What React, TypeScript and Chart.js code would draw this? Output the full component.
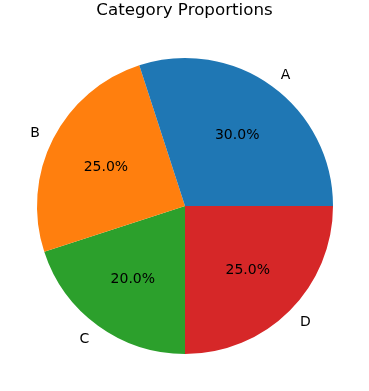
import React, { useEffect, useRef } from "react";
import { Chart, registerables } from "chart.js";

Chart.register(...registerables);

const categories = ["A", "B", "C", "D"];
const values = [30, 25, 20, 25];
const colors = ["#1f77b4", "#ff7f0e", "#2ca02c", "#d62728"];
const titleText = "Category Proportions";

// matplotlib draws counter-clockwise from east; Chart.js draws clockwise.
const order = [3, 2, 1, 0];

const labelPlugin = {
  id: "mplLabels",
  afterDatasetsDraw(chart: any) {
    const ctx = chart.ctx;
    const meta = chart.getDatasetMeta(0);
    const total = values.reduce((a, b) => a + b, 0);
    ctx.save();
    meta.data.forEach((arc: any, i: number) => {
      const idx = order[i];
      const mid = (arc.startAngle + arc.endAngle) / 2;
      const r = arc.outerRadius;
      const cx = arc.x;
      const cy = arc.y;
      const c = Math.cos(mid);
      const s = Math.sin(mid);
      ctx.fillStyle = "#000";
      ctx.font = "14px 'DejaVu Sans'";
      ctx.textBaseline = "middle";
      ctx.textAlign = c > 0 ? "left" : "right";
      ctx.fillText(categories[idx], cx + 1.1 * r * c, cy + 1.1 * r * s + 1.5);
      ctx.textAlign = "center";
      const pct = ((values[idx] / total) * 100).toFixed(1) + "%";
      ctx.fillText(pct, cx + 0.6 * r * c, cy + 0.6 * r * s + 1.5);
    });
    ctx.font = "16.7px 'DejaVu Sans'";
    ctx.textAlign = "center";
    ctx.textBaseline = "alphabetic";
    ctx.fillText(titleText, 184.5, 15);
    ctx.restore();
  },
};

export default function App() {
  const ref = useRef<HTMLCanvasElement>(null);
  useEffect(() => {
    document.body.style.margin = "0";
    const chart = new Chart(ref.current!, {
      type: "pie",
      data: {
        labels: order.map((i) => categories[i]),
        datasets: [
          {
            data: order.map((i) => values[i]),
            backgroundColor: order.map((i) => colors[i]),
            borderWidth: 0,
          },
        ],
      },
      options: {
        responsive: false,
        animation: false,
        rotation: 90,
        layout: { padding: { left: 37, right: 36, top: 58, bottom: 37 } },
        plugins: {
          legend: { display: false },
          title: { display: false },
          tooltip: { enabled: false },
        },
      },
      plugins: [labelPlugin],
    });
    return () => chart.destroy();
  }, []);
  return (
    <div style={{ position: "absolute", left: 0, top: 0, width: 369, height: 391, background: "#fff" }}>
      <canvas ref={ref} width={369} height={391} style={{ width: 369, height: 391 }} />
    </div>
  );
}
